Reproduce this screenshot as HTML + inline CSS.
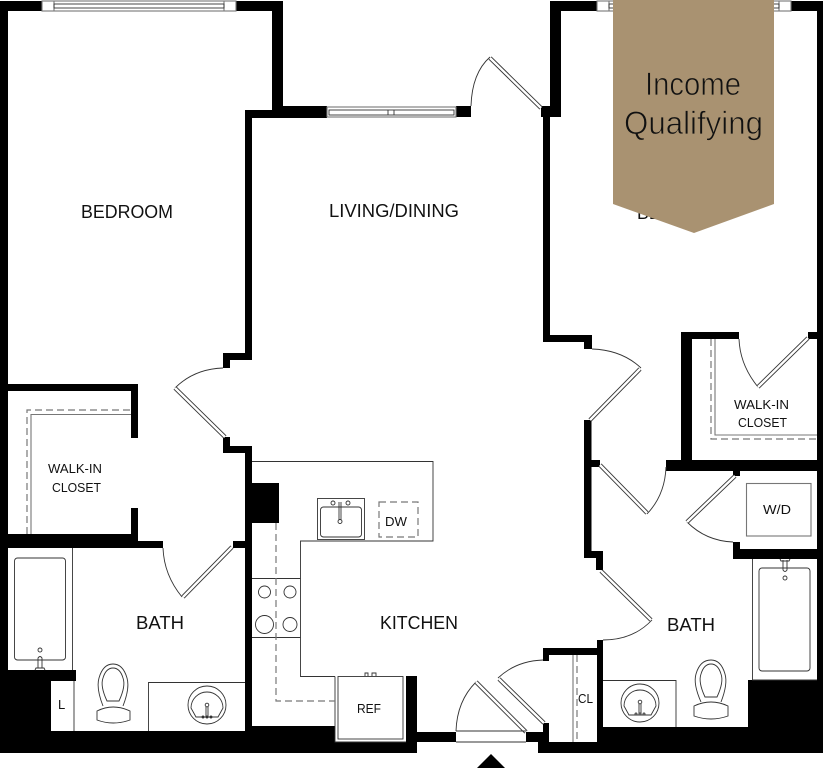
<!DOCTYPE html>
<html><head><meta charset="utf-8"><style>
html,body{margin:0;padding:0;background:#fff;width:823px;height:768px;overflow:hidden}
svg{display:block}
text{font-family:"Liberation Sans",sans-serif;fill:#111}
.t{fill:none;stroke:#333;stroke-width:.9}
.g{fill:none;stroke:#777;stroke-width:1.1}
.d{fill:none;stroke:#777;stroke-width:1.2;stroke-dasharray:7 4}
.lo{stroke:#333;stroke-width:4.2;fill:none}
.li{stroke:#fff;stroke-width:2.4;fill:none}
</style></head><body>
<svg width="823" height="768" viewBox="0 0 823 768" xmlns="http://www.w3.org/2000/svg">
<g fill="#000">
<rect x="0" y="1" width="8" height="752"/>
<rect x="0" y="1" width="42" height="10"/>
<rect x="236" y="1" width="47" height="10"/>
<rect x="272" y="1" width="11" height="117"/>
<rect x="245" y="110" width="82" height="8"/>
<rect x="283" y="106" width="44" height="12"/>
<rect x="245" y="110" width="7" height="250"/>
<rect x="223" y="353" width="29" height="7"/>
<rect x="223" y="353" width="7" height="15"/>
<rect x="223" y="437" width="7" height="16"/>
<rect x="223" y="446" width="29" height="7"/>
<rect x="245" y="446" width="7" height="285"/>
<rect x="252" y="483" width="27" height="40"/>
<rect x="0" y="384" width="138" height="7"/>
<rect x="131" y="384" width="7" height="54"/>
<rect x="131" y="508" width="7" height="33"/>
<rect x="0" y="534" width="138" height="14"/>
<rect x="138" y="541" width="25" height="7"/>
<rect x="233" y="541" width="12" height="7"/>
<rect x="0" y="670" width="51" height="83"/>
<rect x="8" y="670" width="68" height="11"/>
<rect x="0" y="731" width="335" height="22"/>
<rect x="245" y="726" width="90" height="6"/>
<rect x="335" y="742" width="82" height="11"/>
<rect x="406" y="676" width="11" height="77"/>
<rect x="417" y="732" width="39" height="10"/>
<rect x="526" y="732" width="20" height="10"/>
<rect x="543" y="723" width="6" height="30"/>
<rect x="538" y="742" width="285" height="11"/>
<rect x="543" y="648" width="60" height="7"/>
<rect x="543" y="648" width="6" height="13"/>
<rect x="597" y="640" width="6" height="102"/>
<rect x="603" y="727" width="145" height="26"/>
<rect x="748" y="680" width="75" height="73"/>
<rect x="817" y="1" width="6" height="752"/>
<rect x="791" y="1" width="32" height="10"/>
<rect x="550" y="1" width="47" height="10"/>
<rect x="550" y="1" width="11" height="116"/>
<rect x="541" y="106" width="20" height="11"/>
<rect x="543" y="117" width="7" height="225"/>
<rect x="543" y="335" width="49" height="7"/>
<rect x="584" y="335" width="8" height="14"/>
<rect x="456" y="106" width="15" height="11"/>
<rect x="584" y="420" width="7.5" height="138"/>
<rect x="584" y="551" width="19" height="7"/>
<rect x="596" y="551" width="7" height="19"/>
<rect x="584" y="460" width="16" height="7"/>
<rect x="666" y="460" width="157" height="11"/>
<rect x="681" y="332" width="11" height="139"/>
<rect x="681" y="332" width="58" height="7"/>
<rect x="808" y="332" width="15" height="7"/>
<rect x="733" y="460" width="7" height="16"/>
<rect x="733" y="542" width="7" height="17"/>
<rect x="733" y="549" width="90" height="10"/>
<polygon points="491,754 505,768 477,768"/>
</g>
<g>
<rect x="42" y="1" width="194" height="10" class="g"/>
<line x1="54" y1="1" x2="54" y2="11" class="g"/><line x1="224" y1="1" x2="224" y2="11" class="g"/>
<rect x="54" y="4" width="170" height="4" class="t"/>
<rect x="327" y="107" width="129" height="10" class="g"/>
<rect x="329" y="110" width="125" height="5" class="t"/>
<line x1="388" y1="110" x2="388" y2="115" class="t"/><line x1="394" y1="110" x2="394" y2="115" class="t"/>
<rect x="597" y="1" width="194" height="10" class="g"/>
<line x1="609" y1="1" x2="609" y2="11" class="g"/><line x1="779" y1="1" x2="779" y2="11" class="g"/>
<rect x="609" y="4" width="170" height="4" class="t"/>
</g>
<g>
<path class="t" d="M471 106 Q472 73 490 57"/>
<line class="lo" x1="490" y1="58" x2="541" y2="108"/><line class="li" x1="490" y1="58" x2="541" y2="108"/>
<path class="t" d="M223 368 Q194 369 175 388"/>
<line class="lo" x1="175" y1="388" x2="225" y2="437"/><line class="li" x1="175" y1="388" x2="225" y2="437"/>
<path class="t" d="M163 548 Q164 575 182 597"/>
<line class="lo" x1="183" y1="597" x2="232" y2="547"/><line class="li" x1="183" y1="597" x2="232" y2="547"/>
<path class="t" d="M592 349 Q622 350 641 368"/>
<line class="lo" x1="640" y1="369" x2="590" y2="420"/><line class="li" x1="640" y1="369" x2="590" y2="420"/>
<path class="t" d="M739 339 Q740 365 758 387"/>
<line class="lo" x1="758" y1="387" x2="808" y2="338"/><line class="li" x1="758" y1="387" x2="808" y2="338"/>
<path class="t" d="M666 467 Q665 495 647 514"/>
<line class="lo" x1="600" y1="465" x2="647" y2="513"/><line class="li" x1="600" y1="465" x2="647" y2="513"/>
<path class="t" d="M733 542 Q706 541 687 522"/>
<line class="lo" x1="735" y1="476" x2="687" y2="522"/><line class="li" x1="735" y1="476" x2="687" y2="522"/>
<path class="t" d="M603 640 Q633 640 652 620"/>
<line class="lo" x1="601" y1="571" x2="651" y2="620"/><line class="li" x1="601" y1="571" x2="651" y2="620"/>
<path class="t" d="M456 731 Q457 701 476 682"/>
<line class="lo" x1="476" y1="682" x2="526" y2="732"/><line class="li" x1="476" y1="682" x2="526" y2="732"/>
<path class="t" d="M543 660 Q516 661 498 678"/>
<line class="lo" x1="499" y1="679" x2="544" y2="723"/><line class="li" x1="499" y1="679" x2="544" y2="723"/>
<line class="t" x1="456" y1="731" x2="526" y2="731"/>
<line class="t" x1="456" y1="742" x2="526" y2="742"/>
</g>
<path class="d" d="M27 534V410H131"/>
<path class="g" d="M31 534V414.500H131"/>
<path class="d" d="M711 339V439H817"/>
<path class="g" d="M715 339V435H817"/>
<line class="g" x1="573" y1="655" x2="573" y2="742"/>
<line class="d" x1="577" y1="655" x2="577" y2="742"/>
<g class="t">
<path d="M72.500 548V670"/>
<rect x="14.500" y="558" width="51" height="102" rx="3"/>
<circle cx="40" cy="650" r="2"/>
<path d="M38 668V658Q40 655 42 658V668M35 670L36 668H44L45 670"/>
<path d="M74 681V731M148.500 731V682.500H245"/>
<circle cx="207" cy="705" r="19"/>
<path d="M191 708A16 16 0 1 1 223 708L218 717H196Z"/>
<circle cx="207" cy="705" r="1.800"/>
<path d="M206 707V717M208 707V717"/>
<circle cx="203" cy="717" r="1"/><circle cx="207" cy="717" r="1"/><circle cx="211" cy="717" r="1"/>
<path d="M103 706Q96 688 99 678Q103 664 113 664Q123 664 127 678Q130 688 123 706"/>
<path d="M107 701Q100 686 103 678Q106 668 113 668Q120 668 123 678Q126 686 119 701Z"/>
<path d="M97 711Q113 703 130 711V720Q113 726 97 720Z"/>
</g>
<g class="t">
<path d="M752.500 559V680H817"/>
<rect x="759" y="568" width="51" height="103" rx="3"/>
<circle cx="785" cy="578" r="2"/>
<path d="M783 560V570Q785 573 787 570V560M780 559L781 561H789L790 559"/>
<path d="M603 680.500H676V727"/>
<circle cx="640" cy="703" r="19"/>
<path d="M624 706A16 16 0 1 1 656 706L651 715H629Z"/>
<circle cx="640" cy="702" r="1.800"/>
<path d="M639 704V714M641 704V714"/>
<circle cx="636" cy="714" r="1"/><circle cx="640" cy="714" r="1"/><circle cx="644" cy="714" r="1"/>
<path d="M701 702Q693 684 696 674Q700 660 711 660Q721 660 725 674Q728 684 721 702"/>
<path d="M705 697Q698 682 701 674Q704 664 711 664Q718 664 721 674Q724 682 717 697Z"/>
<path d="M694 706Q711 698 728 706V716Q711 722 694 716Z"/>
</g>
<rect class="g" x="746.500" y="483.500" width="64.500" height="52.500"/>
<g class="t">
<path d="M252 461.500H433V541H300.500V676.500H335"/>
<path d="M252 578.500H300.500M252 637.500H300.500"/>
<circle cx="264.500" cy="592" r="6"/><circle cx="290" cy="592" r="6"/>
<circle cx="264.500" cy="624.500" r="9"/><circle cx="290" cy="624.500" r="7"/>
<rect x="317.500" y="498.500" width="47" height="41"/>
<rect x="320.500" y="507" width="41" height="30" rx="3"/>
<circle cx="333" cy="503" r="2"/><circle cx="348" cy="503" r="2"/>
<path d="M339 502V520M341 502V520"/><circle cx="340" cy="521.500" r="2"/>
<path d="M365 676V673H368V676M372 676V673H376V676"/>
<rect x="338" y="676.500" width="65" height="62.500"/>
<path d="M335 676.500V742H406"/>
</g>
<rect x="379" y="502" width="39" height="35" class="d"/>
<path class="d" d="M276 523V701H335"/>
<g font-size="18">
<text x="81" y="218" textLength="92" lengthAdjust="spacingAndGlyphs">BEDROOM</text>
<text x="329" y="217" textLength="130" lengthAdjust="spacingAndGlyphs">LIVING/DINING</text>
<text x="637" y="219" textLength="92" lengthAdjust="spacingAndGlyphs">BEDROOM</text>
<text x="380" y="629" textLength="78" lengthAdjust="spacingAndGlyphs">KITCHEN</text>
<text x="136" y="629" textLength="48" lengthAdjust="spacingAndGlyphs">BATH</text>
<text x="667" y="631" textLength="48" lengthAdjust="spacingAndGlyphs">BATH</text>
</g>
<g font-size="13">
<text x="48" y="473" textLength="54" lengthAdjust="spacingAndGlyphs">WALK-IN</text>
<text x="52" y="492" textLength="49" lengthAdjust="spacingAndGlyphs">CLOSET</text>
<text x="734" y="409" textLength="55" lengthAdjust="spacingAndGlyphs">WALK-IN</text>
<text x="738" y="427" textLength="49" lengthAdjust="spacingAndGlyphs">CLOSET</text>
<text x="385" y="526" textLength="22" lengthAdjust="spacingAndGlyphs">DW</text>
<text x="357" y="713" textLength="24" lengthAdjust="spacingAndGlyphs">REF</text>
<text x="58" y="709">L</text>
<text x="578" y="703" textLength="15" lengthAdjust="spacingAndGlyphs">CL</text>
<text x="763" y="514" textLength="28" lengthAdjust="spacingAndGlyphs">W/D</text>
</g>
<polygon points="613,0 774,0 774,204 694,233 613,204" fill="#a99271"/>
<g font-size="32" stroke="#a99271" stroke-width=".8">
<text x="645" y="95" textLength="96" lengthAdjust="spacingAndGlyphs">Income</text>
<text x="624" y="134" textLength="139" lengthAdjust="spacingAndGlyphs">Qualifying</text>
</g>
</svg>
</body></html>
